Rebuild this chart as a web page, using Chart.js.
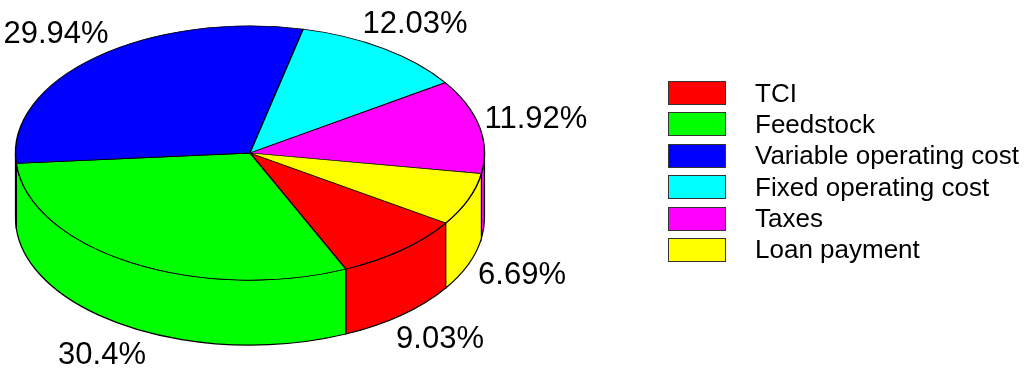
<!DOCTYPE html>
<html>
<head>
<meta charset="utf-8">
<style>
  html, body { margin: 0; padding: 0; background: #fff; }
  #wrap { position: relative; width: 1024px; height: 373px; overflow: hidden; }
  #legend { position: absolute; left: 668px; top: 81px; font: 26px "Liberation Sans", sans-serif; color: #000; white-space: nowrap; }
  .row { display: flex; align-items: center; height: 24px; margin-bottom: 7.4px; }
  .box { width: 56px; height: 22px; border: 1px solid #333; margin-right: 29px; }
</style>
<script src="https://cdn.jsdelivr.net/npm/chart.js@4"></script>
</head>
<body>
<div id="wrap">
  <canvas id="myChart" width="1024" height="373"></canvas>
  <div id="legend"></div>
</div>
<script>
const categories = ['TCI', 'Feedstock', 'Variable operating cost', 'Fixed operating cost', 'Taxes', 'Loan payment'];
const shares = [9.03, 30.4, 29.94, 12.03, 11.92, 6.69];
const shareLabels = ['9.03%', '30.4%', '29.94%', '12.03%', '11.92%', '6.69%'];
const colors = ['#ff0000', '#00ff00', '#0000ff', '#00ffff', '#ff00ff', '#ffff00'];
const labelSpots = [[440, 339], [102, 355], [56, 34], [415, 24], [536, 119], [522, 275]];

const tilt = 0.542;
const depth = 65;

// squash the flat pie into an ellipse and draw the side wall under it
const pie3d = {
    id: 'pie3d',
    beforeDatasetsDraw(chart) {
        const ctx = chart.ctx;
        const arcs = chart.getDatasetMeta(0).data;
        const cx = arcs[0].x;
        const cy = arcs[0].y;
        const rx = arcs[0].outerRadius;
        const ry = rx * tilt;

        arcs.forEach(function (arc, i) {
            // only the part of the slice facing the viewer has a visible wall
            for (let turn = -2; turn <= 2; turn++) {
                const a = Math.max(arc.startAngle, turn * 2 * Math.PI);
                const b = Math.min(arc.endAngle, turn * 2 * Math.PI + Math.PI);
                if (b <= a) continue;
                ctx.beginPath();
                ctx.ellipse(cx, cy, rx, ry, 0, a, b);
                ctx.ellipse(cx, cy + depth, rx, ry, 0, b, a, true);
                ctx.closePath();
                ctx.fillStyle = colors[i];
                ctx.fill();
                ctx.lineWidth = 1.2;
                ctx.strokeStyle = '#000';
                ctx.stroke();
            }
        });

        ctx.save();
        ctx.translate(cx, cy);
        ctx.scale(1, tilt);
        ctx.translate(-cx, -cy);
    },
    afterDatasetsDraw(chart) {
        chart.ctx.restore();
    },
    afterDraw(chart) {
        const ctx = chart.ctx;
        ctx.save();
        ctx.fillStyle = '#000';
        ctx.font = '31px "Liberation Sans"';
        ctx.textAlign = 'center';
        ctx.textBaseline = 'middle';
        shareLabels.forEach(function (text, i) {
            ctx.fillText(text, labelSpots[i][0], labelSpots[i][1]);
        });
        ctx.restore();
    }
};

new Chart(document.getElementById('myChart').getContext('2d'), {
    type: 'pie',
    data: {
        labels: categories,
        datasets: [{
            data: shares,
            backgroundColor: colors,
            borderColor: '#000',
            borderWidth: 1.4
        }]
    },
    options: {
        responsive: false,
        animation: false,
        rotation: 123.4,
        radius: 234.5,
        layout: { padding: { left: 0, right: 524, top: 0, bottom: 67 } },
        plugins: {
            tooltip: { enabled: false },
            legend: { display: false }
        }
    },
    plugins: [pie3d]
});

// legend sits next to the canvas so the swatch-to-text gap can be set freely
categories.forEach(function (name, i) {
    let row = document.createElement('div');
    let box = document.createElement('span');
    let text = document.createElement('span');
    row.className = 'row';
    box.className = 'box';
    box.style.background = colors[i];
    text.innerText = name;
    row.appendChild(box);
    row.appendChild(text);
    document.getElementById('legend').appendChild(row);
});
</script>
</body>
</html>
